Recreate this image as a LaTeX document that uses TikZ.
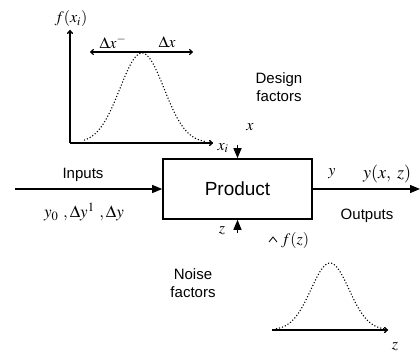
\documentclass[tikz,border=0pt]{standalone}
\usepackage{mathptmx}
\usepackage{fontspec}
\setmainfont{Liberation Sans}
\usetikzlibrary{arrows.meta}
\begin{document}
\begin{tikzpicture}[x=1pt,y=-1pt,
  lbl/.style={inner sep=0pt, font=\fontsize{15}{18}\selectfont},
  mth/.style={inner sep=0pt, font=\fontsize{16}{19}\selectfont},
  axis/.style={line width=1.4pt},
  bell/.style={dotted, line width=1.1pt},
  bigtip/.style={-{Triangle[length=10pt,width=8pt]}, line width=1.2pt},
  smalltip/.style={-{To[length=4pt,width=6pt]}}]
\useasboundingbox (0,0) rectangle (420,358);
% product box
\node[draw, line width=1.6pt, minimum width=149pt, minimum height=60pt,
      inner sep=0pt, font=\fontsize{19}{22}\selectfont] (box) at (237.5,189) {Product};
% inputs / outputs
\coordinate (in) at (15,189);
\coordinate (out) at (420,189);
\draw[bigtip] (in) -- (box.west);
\draw[bigtip] (box.east) -- (out);
\node[lbl] (inputs) at (83,175) {Inputs};
\node[mth, font=\fontsize{17}{20}\selectfont] (ylist) at (84,212) {$y_0\ ,\Delta y^{\mathrm{1}}\ ,\Delta y$};
\node[mth] (yout) at (332,174) {$y$};
\node[mth, anchor=west, font=\fontsize{18}{21}\selectfont] (yxz) at (363,174) {$y(x,\;z)$};
\node[lbl] (outputs) at (367,216) {Outputs};
% design factor arrow
\coordinate (xa) at (237.5,145);
\draw[bigtip] (xa) -- (box.north);
\node[mth] (xlab) at (250,127) {$x$};
\node[mth] (xilab) at (223,148) {$x_i$};
\node[lbl, align=center] (design) at (279,87) {Design\\factors};
% noise factor arrow
\coordinate (za) at (237.5,233);
\draw[bigtip] (za) -- (box.south);
\node[mth] (zlab) at (222,231) {$z$};
\node[lbl, align=center] (noise) at (193,283) {Noise\\factors};
% top distribution plot
\coordinate (o1) at (70,143);
\coordinate (y1) at (70,30);
\coordinate (x1) at (213,143);
\draw[axis, smalltip] (o1) -- (y1);
\draw[axis, smalltip] (o1) -- (x1);
\node[mth] (fx) at (71,19) {$f(x_i)$};
\coordinate (dl) at (90,52);
\coordinate (dr) at (193,52);
\draw[line width=1.1pt, {To[length=4pt,width=6pt]}-{To[length=4pt,width=6pt]}] (dl) -- (dr);
\node[mth] (dxm) at (113,42) {$\Delta x^{-}$};
\node[mth] (dxp) at (167,42) {$\Delta x$};
\draw[bell] plot[domain=84:206, samples=70] (\x, {143-90*exp(-((\x-142)/22)^2/2)});
% bottom distribution plot
\coordinate (o2) at (272,330);
\coordinate (x2) at (388,330);
\draw[axis, smalltip] (o2) -- (x2);
\coordinate (ct) at (273,237);
\draw[line width=0.8pt] (269,242) -- (ct) -- (277,242);
\node[mth, anchor=west] (fz) at (281,240) {$f(z)$};
\draw[bell] plot[domain=276:385, samples=60] (\x, {330-67*exp(-((\x-330)/19)^2/2)});
\node[mth] (zax) at (395,347) {$z$};
\end{tikzpicture}
\end{document}
